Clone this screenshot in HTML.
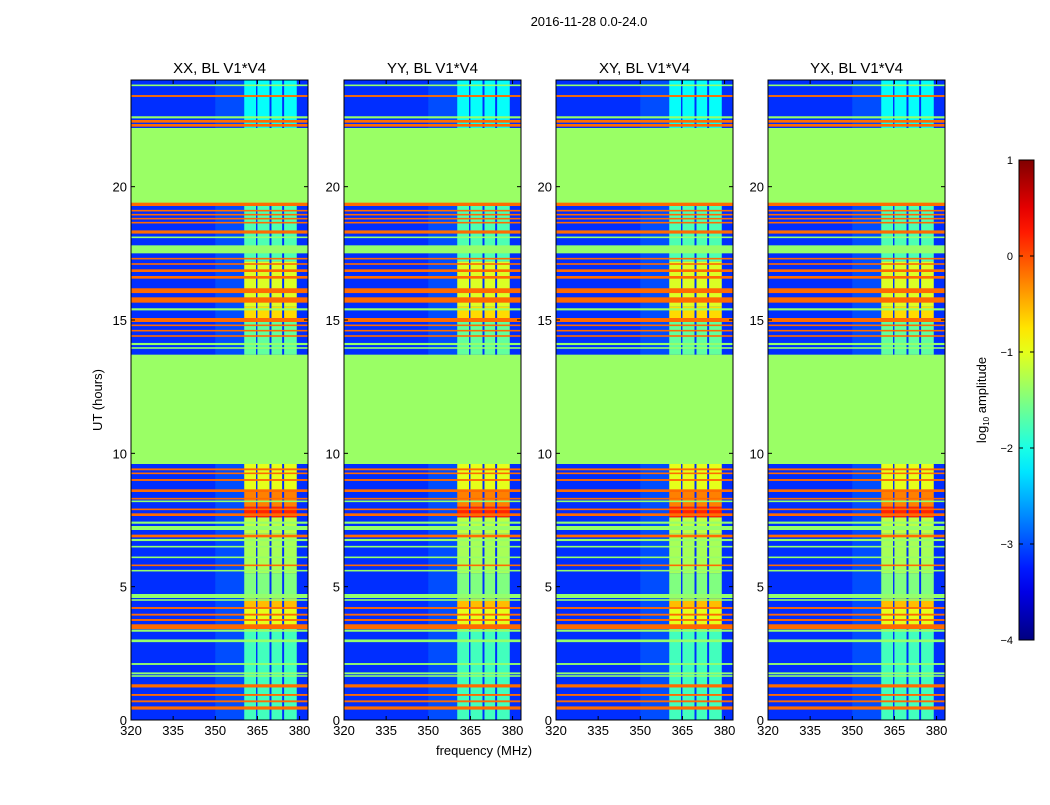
<!DOCTYPE html>
<html><head><meta charset="utf-8"><style>
body{margin:0;background:#fff;font-family:"Liberation Sans",sans-serif}
svg text{font-family:"Liberation Sans",sans-serif}
</style></head><body>
<svg id="fig" width="1050" height="800" xmlns="http://www.w3.org/2000/svg">
<rect width="1050" height="800" fill="#fff"/>
<text x="589" y="26" font-size="13" text-anchor="middle">2016-11-28 0.0-24.0</text>
<text transform="translate(102,400) rotate(-90)" font-size="13" text-anchor="middle">UT (hours)</text>
<text x="484" y="755" font-size="13" text-anchor="middle">frequency (MHz)</text>
<g id="panels"></g>
<defs><linearGradient id="jetgrad" x1="0" y1="1" x2="0" y2="0"></linearGradient></defs>
<g id="cbar"></g>
<text transform="translate(986,400) rotate(-90)" font-size="13" text-anchor="middle">log<tspan font-size="8" dy="3">10</tspan><tspan dy="-3"> amplitude</tspan></text>
</svg>
<script>
// ---- data ----
const panelTitles = ["XX, BL V1*V4","YY, BL V1*V4","XY, BL V1*V4","YX, BL V1*V4"];
const xTicks = [320,335,350,365,380];
const yTicks = [0,5,10,15,20];
const cbTicks = [1,0,-1,-2,-3,-4];
const backgroundLevel = -3.15;
const nearBandLevel = -3.0;
// flagged (constant) time blocks [start hour, end hour, level]
const flagBlocks = [[9.6,13.7,-1.37],[19.4,22.2,-1.37]];
// bright frequency columns [fStart, fEnd]
const brightCols = [[360.3,364.5],[365.0,369.3],[370.0,373.8],[374.5,379.0]];
// column brightness by time segment [start, end, level]
const colLevels = [[0,3.45,-1.8],[3.45,4.2,-1.0],[4.2,4.55,-0.55],[4.55,5.5,-1.5],[5.5,7.0,-1.3],[7.0,7.6,-1.2],
 [7.6,8.0,0.2],[8.0,8.6,-0.25],[8.6,9.6,-1.0],[13.7,15.0,-1.65],[15.0,15.5,-0.7],[15.5,17.2,-1.05],
 [17.2,19.4,-1.75],[22.2,24,-2.1]];
// horizontal RFI lines [hour, level, thickness in hours]
const hLines = [[23.8,-1.4,0.06],[23.4,-0.15,0.07],[22.6,-1.4,0.08],[22.45,-0.15,0.1],[22.3,-0.15,0.1],
 [19.35,-0.15,0.15],[19.1,-0.15,0.06],[18.95,-0.15,0.06],[18.8,-0.15,0.06],[18.65,-0.15,0.06],[18.3,-0.15,0.12],[18.1,-1.4,0.06],
 [17.65,-1.4,0.3],[17.3,-0.15,0.06],[17.1,-0.15,0.06],[16.85,-0.15,0.1],[16.6,-0.15,0.1],[16.1,-0.15,0.18],[15.75,-0.15,0.2],
 [15.4,-1.4,0.08],[15.0,-0.15,0.15],[14.8,-0.15,0.06],[14.6,-0.15,0.06],[14.4,-0.15,0.06],[14.1,-1.4,0.08],[13.95,-1.4,0.06],
 [9.4,-0.15,0.07],[9.25,-0.15,0.06],[9.0,-0.15,0.07],[8.6,-0.15,0.1],[8.3,-0.15,0.06],[8.2,-1.4,0.06],[7.9,-0.15,0.06],
 [7.7,-0.15,0.1],[7.4,-1.4,0.08],[7.2,-1.4,0.15],[6.9,-0.15,0.1],[6.75,-1.4,0.08],[6.5,-1.4,0.06],[6.1,-1.4,0.06],
 [5.8,-0.15,0.06],[5.6,-1.4,0.06],[4.65,-1.4,0.15],[4.5,-1.4,0.06],[4.2,-0.15,0.07],[3.95,-0.15,0.07],[3.75,-0.15,0.07],
 [3.5,-0.15,0.18],[3.35,-1.4,0.08],[2.97,-1.4,0.1],[2.1,-1.4,0.07],[1.75,-1.4,0.07],[1.65,-1.4,0.06],[1.28,-0.15,0.12],
 [0.94,-0.15,0.07],[0.7,-0.15,0.07],[0.45,-0.15,0.12]];
// ---- layout ----
const panelX = [131,344,556,768], pw = 177, plotTop = 80, plotBottom = 720;
const fMin = 320, fMax = 383;
const ns = "http://www.w3.org/2000/svg";
function jet(v){const x=(v+4)/5;const c=t=>Math.round(255*Math.max(0,Math.min(1,1.5-Math.abs(4*x-t))));return `rgb(${c(3)},${c(2)},${c(1)})`;}
function mk(tag,attrs,parent){const e=document.createElementNS(ns,tag);for(const k in attrs)e.setAttribute(k,attrs[k]);parent.appendChild(e);return e;}
const yS = h => plotBottom - (h/24)*(plotBottom-plotTop);
const panels = document.getElementById('panels');
panelX.forEach((x0,i)=>{
  const xS = f => x0 + (f-fMin)/(fMax-fMin)*pw;
  const g = mk('g',{},panels);
  
  
  mk('rect',{x:x0,y:plotTop,width:pw,height:plotBottom-plotTop,fill:jet(backgroundLevel)},g);
  mk('rect',{x:xS(350),y:plotTop,width:xS(360.3)-xS(350),height:plotBottom-plotTop,fill:jet(nearBandLevel)},g);
  colLevels.forEach(s=>{brightCols.forEach(c=>{
    const r = mk('rect',{x:xS(c[0]),y:yS(s[1]),width:xS(c[1])-xS(c[0]),height:yS(s[0])-yS(s[1]),fill:jet(s[2])},g);
    
    
  });});
  hLines.forEach(l=>{
    const r = mk('rect',{x:x0,y:yS(l[0]+l[2]/2),width:pw,height:Math.max(1.2,yS(l[0]-l[2]/2)-yS(l[0]+l[2]/2)),fill:jet(l[1])},g);
    
    
  });
  flagBlocks.forEach(b=>{
    const r = mk('rect',{x:x0,y:yS(b[1]),width:pw,height:yS(b[0])-yS(b[1]),fill:jet(b[2])},g);
    
    
  });
  mk('rect',{x:x0,y:plotTop,width:pw,height:plotBottom-plotTop,fill:'none',stroke:'#000','stroke-width':1},g);
  const t = mk('text',{x:x0+pw/2,y:73,'font-size':15,'text-anchor':'middle'},g); t.textContent=panelTitles[i];
  
  
  xTicks.forEach(f=>{const X=xS(f);
    mk('line',{x1:X,x2:X,y1:plotBottom,y2:plotBottom-4,stroke:'#000'},g);mk('line',{x1:X,x2:X,y1:plotTop,y2:plotTop+4,stroke:'#000'},g);
    const tx=mk('text',{x:X,y:plotBottom+15,'font-size':13,'text-anchor':'middle'},g);tx.textContent=f;
    
    });
  yTicks.forEach(h=>{const Y=yS(h);
    mk('line',{x1:x0,x2:x0+4,y1:Y,y2:Y,stroke:'#000'},g);mk('line',{x1:x0+pw,x2:x0+pw-4,y1:Y,y2:Y,stroke:'#000'},g);
    const ty=mk('text',{x:x0-4,y:Y+5,'font-size':13,'text-anchor':'end'},g);ty.textContent=h;
    
    });
});
// colorbar
const grad=document.getElementById('jetgrad');
for(let k=0;k<=20;k++){mk('stop',{offset:k/20,'stop-color':jet(-4+5*k/20)},grad);}
const cb=document.getElementById('cbar');
const cbY = v => 640 - (v+4)/5*480;
mk('rect',{x:1019,y:160,width:15,height:480,fill:'url(#jetgrad)',stroke:'#000'},cb);
cbTicks.forEach(v=>{const Y=cbY(v);
  mk('line',{x1:1019,x2:1023,y1:Y,y2:Y,stroke:'#000'},cb);mk('line',{x1:1034,x2:1030,y1:Y,y2:Y,stroke:'#000'},cb);
  const t=mk('text',{x:1013,y:Y+4,'font-size':11,'text-anchor':'end'},cb);t.textContent=v<0?'\u2212'+(-v):v;
  
  });
</script>
</body></html>
